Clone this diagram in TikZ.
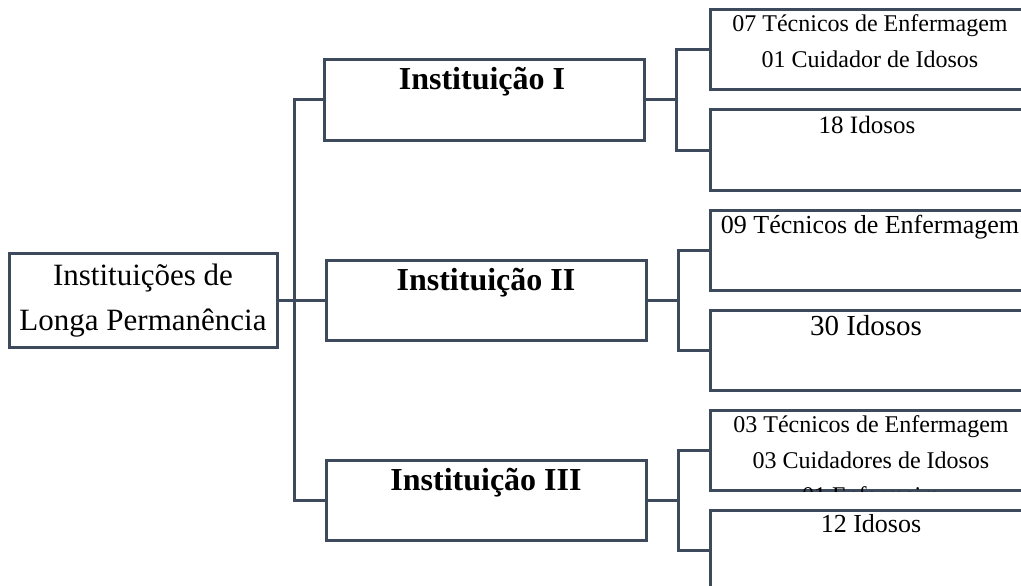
\documentclass[tikz,border=0pt]{standalone}
\usepackage{fontspec}
\setmainfont{Liberation Serif}
\usepackage{tikz}
\usetikzlibrary{positioning}
\definecolor{linegray}{HTML}{3D4A5C}

\begin{document}
\begin{tikzpicture}[x=1pt,y=-1pt,line width=3pt]
				\useasboundingbox (0,0) rectangle (1021,586);
				\clip (0,0) rectangle (1021,586);
				% boxes
				\begin{scope}[every node/.style={rectangle,draw=linegray,line width=3pt,minimum width=320pt,inner sep=0pt}]
				\node[minimum width=268pt,minimum height=94pt] (ilp) at (143,300) {};
				\node[minimum height=80pt] (inst1) at (484.5,100) {};
				\node[minimum height=80pt] (inst2) at (486,300) {};
				\node[minimum height=80pt] (inst3) at (486,500) {};
				\node[minimum height=80pt] (a1) at (870,50) {};
				\node[minimum height=80pt] (b1) at (870,150) {};
				\node[minimum height=80pt] (a2) at (870,250) {};
				\node[minimum height=80pt] (b2) at (870,350) {};
				\node[minimum height=80pt] (a3) at (870,450) {};
				\node[minimum height=80pt] (b3) at (870,550) {};
				\end{scope}
				% texts
				\begin{scope}[every node/.style={anchor=base,inner sep=0pt}]
				\node[font=\fontsize{31}{37}\selectfont] (ilpa) at (143,285) {Instituições de};
				\node[font=\fontsize{31}{37}\selectfont] (ilpb) at (143,330) {Longa Permanência};
				\node[font=\fontsize{32}{38}\selectfont\bfseries] (t1) at (482,90) {Instituição I};
				\node[font=\fontsize{32}{38}\selectfont\bfseries] (t2) at (486,290) {Instituição II};
				\node[font=\fontsize{32}{38}\selectfont\bfseries] (t3) at (486,490) {Instituição III};
				\node[font=\fontsize{24}{29}\selectfont] (a1x) at (870,32) {07 Técnicos de Enfermagem};
				\node[font=\fontsize{24}{29}\selectfont] (a1y) at (870,68) {01 Cuidador de Idosos};
				\node[font=\fontsize{25}{30}\selectfont] (b1x) at (867,133) {18 Idosos};
				\node[font=\fontsize{26}{31}\selectfont] (a2x) at (870,233) {09 Técnicos de Enfermagem};
				\node[font=\fontsize{29}{34}\selectfont] (b2x) at (866,335) {30 Idosos};
				\node[font=\fontsize{24}{29}\selectfont] (a3x) at (871,432) {03 Técnicos de Enfermagem};
				\node[font=\fontsize{24}{29}\selectfont] (a3y) at (871,468) {03 Cuidadores de Idosos};
				\node[font=\fontsize{26}{31}\selectfont] (b3x) at (871,532) {12 Idosos};
				\end{scope}
				\begin{scope}
				\clip (a3.south west) rectangle (a3.north east);
				\node[anchor=base,inner sep=0pt,font=\fontsize{24}{29}\selectfont] (a3z) at (871,503) {01 Enfermeira};
				\end{scope}
				% connectors
				\coordinate (jroot) at (294,300);
				\coordinate (j1) at (676,100);
				\coordinate (j2) at (678,300);
				\coordinate (j3) at (678,500);
				\begin{scope}[draw=linegray]
				\draw (ilp.east) -- (jroot);
				\draw (inst1.west) -| (jroot);
				\draw (inst2.west) -- (jroot);
				\draw (inst3.west) -| (jroot);
				\draw (inst1.east) -- (j1);
				\draw (a1.west) -| (j1);
				\draw (b1.west) -| (j1);
				\draw (inst2.east) -- (j2);
				\draw (a2.west) -| (j2);
				\draw (b2.west) -| (j2);
				\draw (inst3.east) -- (j3);
				\draw (a3.west) -| (j3);
				\draw (b3.west) -| (j3);
				\end{scope}
				\end{tikzpicture}
\end{document}
